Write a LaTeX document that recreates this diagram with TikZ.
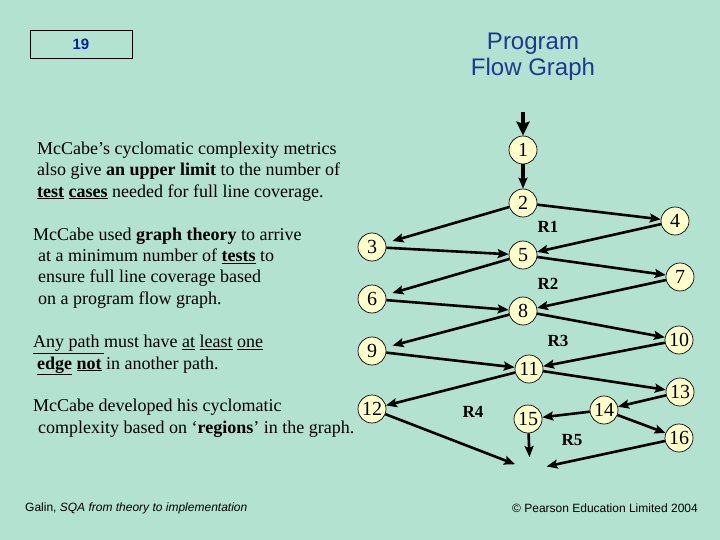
\documentclass[tikz,border=0pt]{standalone}
\usepackage{fontspec}
\setmainfont{Liberation Serif}
\setsansfont{Liberation Sans}
\usetikzlibrary{arrows.meta, positioning}
\definecolor{slideBg}{HTML}{B3E3D0}
\definecolor{nodeFill}{HTML}{FFFFCC}
\definecolor{titleBlue}{HTML}{1F3894}
\definecolor{numBlue}{HTML}{0A1EA0}

\begin{document}
\begin{tikzpicture}[
    x=1pt, y=-1pt,
    vertex/.style={circle, draw=black, fill=nodeFill, line width=0.7pt,
                   minimum size=28pt, inner sep=0pt, font=\fontsize{20}{20}\selectfont},
    region/.style={font=\fontsize{17}{17}\selectfont\bfseries, inner sep=0pt},
    flow/.style={line width=2.6pt, -{Stealth[length=11pt, width=9pt, inset=2pt]}},
    bodytext/.style={anchor=base west, inner sep=0pt, align=left,
                     font=\fontsize{18}{21.2}\selectfont},
    foot/.style={inner sep=0pt, font=\sffamily\fontsize{12}{12}\selectfont},
  ]
    \fill[slideBg] (0,0) rectangle (720,540);
    \useasboundingbox (0,0) rectangle (720,540);

    % slide number and title
    \node[draw=black, line width=0.8pt, minimum width=102pt, minimum height=28pt,
          font=\sffamily\bfseries\fontsize{15}{15}\selectfont, text=numBlue] (slide) at (81,44) {19};
    \node[align=center, text=titleBlue, font=\sffamily\fontsize{24}{26}\selectfont] (title) at (533,57)
      {Program\\Flow Graph};

    % left column text (base = last line)
    \node[bodytext] (t1) at (37,197)
      {McCabe's cyclomatic complexity metrics\\
       also give \textbf{an upper limit} to the number of\\
       \textbf{\underline{test}} \textbf{\underline{cases}} needed for full line coverage.};
    \node[bodytext] (t2) at (33,304)
      {McCabe used \textbf{graph theory} to arrive\\
       \hspace*{5pt}at a minimum number of \textbf{\underline{tests}} to\\
       \hspace*{5pt}ensure full line coverage based\\
       \hspace*{5pt}on a program flow graph.};
    \node[bodytext] (t3) at (33,369)
      {\underline{Any path }must have \underline{at} \underline{least} \underline{one}\\
       \hspace*{4pt}\textbf{\underline{edge}} \textbf{\underline{not}} in another path.};
    \node[bodytext] (t4) at (33,433)
      {McCabe developed his cyclomatic\\
       \hspace*{5pt}complexity based on `\textbf{regions}' in the graph.};

    % flow graph
    \node[vertex] (n1) at (523,150) {1};
    \node[vertex] (n2) at (523,203) {2};
    \node[vertex] (n3) at (372,247) {3};
    \node[vertex] (n4) at (675,221) {4};
    \node[vertex] (n5) at (523,255) {5};
    \node[vertex] (n6) at (372,299) {6};
    \node[vertex] (n7) at (680,277) {7};
    \node[vertex] (n8) at (523,311) {8};
    \node[vertex] (n9) at (372,351) {9};
    \node[vertex] (n10) at (679,340) {10};
    \node[vertex] (n11) at (529,369) {11};
    \node[vertex] (n12) at (372,409) {12};
    \node[vertex] (n13) at (680,392) {13};
    \node[vertex] (n14) at (604,410) {14};
    \node[vertex] (n15) at (528,419) {15};
    \node[vertex] (n16) at (679,438) {16};
    \coordinate (entry) at (523,112);
    \coordinate (exit) at (530,470);

    \node[region] (r1) at (548,227) {R1};
    \node[region] (r2) at (548,284) {R2};
    \node[region] (r3) at (558,341) {R3};
    \node[region] (r4) at (473,412) {R4};
    \node[region] (r5) at (572,440) {R5};

    \draw[line width=3.6pt, -{Stealth[length=14pt, width=13pt, inset=2pt]}] (entry) -- (n1);
    \draw[flow, line width=3.4pt] (n1) -- (n2);
    \draw[flow, shorten >=7pt] (n2) -- (n3);
    \draw[flow] (n2) -- (n4);
    \draw[flow] (n3) -- (n5);
    \draw[flow] (n4) -- (n5);
    \draw[flow, shorten >=7pt] (n5) -- (n6);
    \draw[flow] (n5) -- (n7);
    \draw[flow] (n6) -- (n8);
    \draw[flow] (n7) -- (n8);
    \draw[flow, shorten >=7pt] (n8) -- (n9);
    \draw[flow] (n8) -- (n10);
    \draw[flow] (n9) -- (n11);
    \draw[flow] (n10) -- (n11);
    \draw[flow] (n11) -- (n12);
    \draw[flow] (n11) -- (n13);
    \draw[flow] (n13) -- (n14);
    \draw[flow] (n14) -- (n15);
    \draw[flow] (n14) -- (n16);
    \draw[flow, shorten >=16pt] (n12) -- (exit);
    \draw[flow, shorten >=13pt] (n15) -- (exit);
    \draw[flow, shorten >=17pt] (n16) -- (exit);

    % footer
    \node[foot, anchor=base west] (src) at (25,511) {Galin, \textit{SQA from theory to implementation}};
    \node[foot, anchor=base east] (copy) at (698,512) {\textcopyright{} Pearson Education Limited 2004};
  \end{tikzpicture}
\end{document}
